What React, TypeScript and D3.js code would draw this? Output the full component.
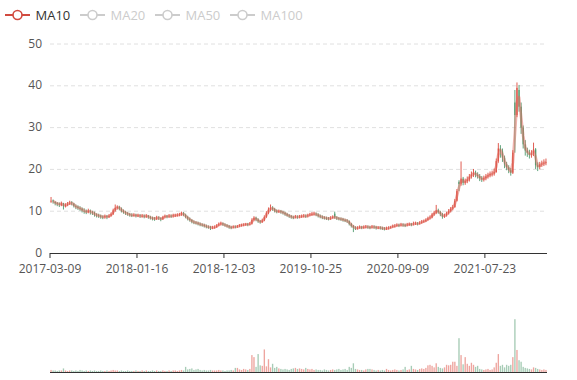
import React from 'react';
import * as d3 from 'd3';

const legendNames = ['MA10', 'MA20', 'MA50', 'MA100'];
const legendActive = [true, false, false, false];
const tickLabels = ['2017-03-09', '2018-01-16', '2018-12-03', '2019-10-25', '2020-09-09', '2021-07-23'];
const tickStep = 42;
const yTicks = [0, 10, 20, 30, 40, 50];

// [open, close, low, high]
const candles: number[][] = [
  [12.3,12.5,12.0,13.4],[12.6,12.3,11.8,12.8],[12.2,11.9,11.4,12.4],[11.9,11.8,11.2,12.2],[11.8,11.6,11.0,12.1],
  [11.5,11.9,11.2,12.3],[11.9,11.2,10.4,12.0],[11.2,11.5,10.9,11.9],[11.5,11.8,11.2,12.2],[11.8,12.0,11.5,12.5],
  [12.1,11.9,11.4,12.4],[11.8,11.3,10.9,12.0],[11.2,11.0,10.5,11.6],[11.1,10.8,10.3,11.4],[10.7,10.6,10.1,11.2],
  [10.6,10.2,9.7,10.9],[10.1,10.0,9.4,10.7],[10.0,9.8,9.3,10.4],[9.8,10.1,9.5,10.6],[10.1,9.8,9.2,10.4],
  [9.8,9.6,9.1,10.1],[9.6,9.2,8.7,9.9],[9.2,9.0,8.5,9.5],[9.0,8.9,8.4,9.4],[8.9,8.7,8.2,9.2],
  [8.7,8.6,8.1,9.0],[8.6,8.8,8.2,9.2],[8.8,8.6,8.1,9.1],[8.6,8.9,8.4,9.3],[8.9,9.3,8.7,9.7],
  [9.3,10.2,9.1,10.6],[10.2,10.8,9.9,11.6],[10.8,11.0,10.4,11.4],[11.0,10.6,10.2,11.3],[10.6,10.1,9.7,10.9],
  [10.1,9.8,9.4,10.4],[9.8,9.5,9.1,10.1],[9.5,9.3,8.9,9.8],[9.3,9.1,8.7,9.6],[9.1,9.0,8.6,9.5],
  [9.0,9.1,8.7,9.5],[9.1,8.9,8.5,9.4],[8.9,9.0,8.6,9.4],[9.0,8.8,8.4,9.3],[8.8,8.9,8.5,9.3],
  [8.9,8.7,8.3,9.2],[8.7,8.9,8.4,9.3],[8.9,8.6,8.2,9.1],[8.6,8.4,8.0,8.9],[8.4,8.3,7.8,8.7],
  [8.3,8.2,7.7,8.6],[8.2,8.5,7.9,8.9],[8.5,8.3,7.9,8.8],[8.3,8.1,7.6,8.5],[8.1,8.6,7.9,8.9],
  [8.6,8.8,8.3,9.2],[8.8,8.7,8.3,9.1],[8.7,8.9,8.4,9.3],[8.9,8.8,8.4,9.2],[8.8,9.0,8.5,9.4],
  [8.9,9.0,8.6,9.4],[9.0,9.1,8.7,9.5],[9.1,9.2,8.8,9.6],[9.2,9.5,8.9,9.9],[9.5,9.1,8.8,9.8],
  [9.1,8.6,8.3,9.4],[8.6,8.2,7.8,8.9],[8.2,7.9,7.5,8.5],[7.9,7.5,7.1,8.1],[7.5,7.3,6.9,7.8],
  [7.3,7.2,6.8,7.6],[7.2,7.0,6.6,7.5],[7.0,6.8,6.4,7.3],[6.8,6.7,6.3,7.1],[6.7,6.5,6.1,7.0],
  [6.5,6.3,5.9,6.8],[6.3,6.2,5.8,6.6],[6.2,6.0,5.5,6.5],[6.0,6.1,5.7,6.5],[6.1,6.2,5.8,6.6],
  [6.2,6.6,6.0,6.9],[6.6,6.9,6.4,7.3],[6.9,7.1,6.6,7.5],[7.1,6.8,6.5,7.3],[6.8,6.6,6.3,7.1],
  [6.6,6.4,6.1,6.9],[6.4,6.2,5.8,6.7],[6.2,6.1,5.7,6.5],[6.1,6.3,5.9,6.6],[6.3,6.2,5.9,6.6],
  [6.2,6.4,6.0,6.7],[6.4,6.6,6.2,6.9],[6.6,6.7,6.3,7.0],[6.7,6.8,6.4,7.1],[6.8,6.9,6.5,7.2],
  [6.9,6.8,6.4,7.2],[6.8,7.0,6.6,7.4],[7.0,7.9,6.8,8.3],[7.9,8.4,7.6,8.8],[8.4,8.0,7.6,8.7],
  [8.0,7.6,7.2,8.3],[7.6,7.4,7.0,7.9],[7.4,7.8,7.2,8.2],[7.8,8.6,7.6,9.0],[8.6,9.6,8.4,10.0],
  [9.6,10.4,9.3,10.9],[10.4,10.8,10.0,11.6],[10.8,10.5,10.1,11.2],[10.5,10.1,9.7,10.8],[10.1,9.9,9.5,10.4],
  [9.9,10.0,9.6,10.4],[10.0,9.8,9.4,10.3],[9.8,9.6,9.2,10.1],[9.6,9.3,8.9,9.9],[9.3,9.0,8.7,9.6],
  [9.0,8.8,8.4,9.3],[8.8,8.6,8.2,9.1],[8.6,8.5,8.1,8.9],[8.5,8.7,8.3,9.1],[8.7,8.6,8.2,9.0],
  [8.6,8.7,8.3,9.1],[8.7,8.8,8.4,9.2],[8.8,8.9,8.5,9.3],[8.9,8.8,8.4,9.2],[8.8,9.0,8.5,9.4],
  [9.0,9.2,8.8,9.6],[9.2,9.3,8.9,9.8],[9.3,9.4,9.0,9.9],[9.4,9.2,8.8,9.7],[9.2,8.9,8.5,9.5],
  [8.9,8.7,8.3,9.2],[8.7,8.5,8.1,9.0],[8.5,8.4,8.0,8.8],[8.4,8.3,7.9,8.7],[8.3,8.2,7.8,8.6],
  [8.2,8.4,7.9,8.8],[8.4,8.6,8.2,9.0],[9.4,8.5,8.2,9.9],[8.5,8.3,7.9,8.8],[8.3,8.2,7.8,8.6],
  [8.2,8.1,7.7,8.5],[8.1,7.9,7.5,8.4],[7.9,7.8,7.4,8.2],[7.8,7.6,7.2,8.1],[7.6,7.0,6.6,7.8],
  [7.0,6.5,6.1,7.2],[6.5,6.1,5.0,6.7],[6.1,5.9,5.5,6.4],[5.9,6.0,5.6,6.4],[6.0,6.2,5.8,6.6],
  [6.2,6.1,5.7,6.5],[6.1,6.2,5.8,6.6],[6.2,6.3,5.9,6.7],[6.3,6.2,5.8,6.6],[6.2,6.1,5.7,6.5],
  [6.1,6.3,5.9,6.7],[6.3,6.2,5.8,6.6],[6.2,6.0,5.6,6.5],[6.0,6.1,5.7,6.4],[6.1,6.0,5.6,6.4],
  [6.0,5.9,5.5,6.3],[5.9,5.8,5.4,6.2],[5.8,5.9,5.5,6.3],[5.9,6.0,5.6,6.4],[6.0,6.2,5.8,6.5],
  [6.2,6.4,6.0,6.8],[6.4,6.5,6.1,6.9],[6.5,6.7,6.3,7.1],[6.7,6.6,6.2,7.0],[6.6,6.8,6.4,7.2],
  [6.8,6.7,6.3,7.1],[6.7,6.6,6.2,7.0],[6.6,6.8,6.4,7.2],[6.8,6.9,6.5,7.3],[6.9,6.8,6.4,7.2],
  [6.8,7.0,6.6,7.5],[7.0,7.1,6.7,7.5],[7.1,7.0,6.6,7.4],[7.0,7.2,6.8,7.6],[7.2,7.5,7.0,7.9],
  [7.5,7.6,7.2,8.0],[7.6,7.9,7.4,8.3],[7.9,8.3,7.7,8.7],[8.3,8.5,8.0,9.0],[8.5,9.2,8.3,9.6],
  [9.2,9.6,8.9,10.1],[9.6,10.2,9.3,11.5],[10.2,9.8,9.4,10.6],[9.8,9.3,8.8,10.1],[9.3,8.7,8.2,9.6],
  [8.7,9.0,8.4,9.4],[9.0,9.5,8.7,9.9],[9.5,10.0,9.2,10.5],[10.0,10.6,9.7,11.0],[10.6,11.0,10.2,11.5],
  [11.0,12.5,10.8,12.9],[12.5,14.8,12.3,15.3],[17.0,16.5,14.8,17.4],[16.6,17.8,16.1,21.9],[17.8,16.8,16.2,18.2],
  [16.8,17.2,16.3,17.8],[17.2,17.6,16.7,18.3],[17.6,18.3,17.1,18.9],[18.3,18.8,17.8,19.5],[18.8,19.2,18.2,20.1],
  [19.2,18.7,18.1,19.7],[18.7,18.4,17.8,19.3],[18.4,17.9,17.2,18.9],[17.9,17.6,17.0,18.4],[17.6,17.9,17.1,18.5],
  [17.9,18.3,17.4,18.9],[18.3,18.6,17.8,19.2],[18.6,18.9,18.1,19.5],[18.9,19.0,18.3,19.7],[19.0,19.4,18.5,20.2],
  [19.4,22.0,19.2,22.6],[22.0,25.0,21.6,26.3],[25.0,24.3,22.8,25.8],[24.3,22.8,21.8,25.0],[22.8,21.2,20.3,23.3],
  [21.2,20.5,19.8,21.8],[20.5,19.8,19.1,21.0],[19.8,19.2,18.5,20.3],[19.2,24.0,18.9,24.6],[36.0,33.0,24.0,39.0],
  [33.0,39.5,32.5,40.8],[39.0,35.0,33.8,40.2],[35.0,30.0,28.5,36.0],[30.0,26.0,25.0,30.5],[26.0,24.5,23.3,27.0],
  [24.5,24.0,23.0,25.2],[24.0,23.5,22.6,24.7],[23.5,23.8,22.8,24.6],[23.8,24.8,23.2,26.4],[24.8,21.0,20.1,25.1],
  [21.0,20.6,19.6,21.7],[20.6,21.2,20.0,21.8],[21.2,21.4,20.6,22.1],[21.4,21.6,20.8,22.4],[21.6,21.8,21.0,22.6],
];

const volumes: number[] = [
  4,3,3,2,3,3,7,3,2,3, 3,2,3,2,4,3,2,3,2,3, 2,3,2,2,3,2,2,3,2,3, 4,3,3,2,3,2,2,3,2,2,
  2,3,2,2,3,2,3,2,2,3, 2,3,2,2,3,2,2,3,2,3, 3,2,3,4,3,10,5,6,7,4, 5,6,4,3,4,3,3,4,3,3,
  3,4,3,3,2,3,3,4,3,8, 8,5,4,6,5,4,6,33,29,10, 35,13,12,44,11,25,9,16,8,10, 7,6,5,6,5,4,6,7,8,6,
  7,6,5,8,6,5,6,4,5,4, 4,3,5,4,3,4,5,4,5,6, 4,5,6,4,10,8,17,6,5,4, 4,3,5,6,6,5,4,3,4,3,
  4,3,6,4,3,4,5,4,3,4, 5,10,4,5,12,6,5,4,6,7, 6,8,13,14,12,9,17,10,8,7, 9,14,13,14,20,20,12,66,33,15,
  29,16,12,18,14,10,12,6,5,4, 5,6,4,5,9,18,35,12,14,9, 14,12,14,29,103,43,23,20,10,8, 7,6,5,9,8,6,5,4,5,4,
];

const UP = '#dd4b3f';
const DOWN = '#4f9a6e';
const FONT = "'Open Sans', 'Noto Sans', sans-serif";

export default function App() {
  const W = 577, H = 380;
  const left = 50, right = 547, top = 44, bottom = 253;
  const vTop = 290, vBottom = 372;
  const n = candles.length;
  const pad = 0.35;
  const x = d3.scaleBand<number>().domain(d3.range(n)).range([left, right]).paddingInner(pad).paddingOuter(pad / 2);
  const step = x.step();
  const bw = x.bandwidth();
  const cx = (i: number) => (x(i) as number) + bw / 2;
  const tickX = (k: number) => (x(k) as number) - step * (pad / 2);
  const y = d3.scaleLinear().domain([0, 50]).range([bottom, top]);
  const yv = d3.scaleLinear().domain([0, 160]).range([vBottom, vTop]);

  const closes = candles.map(c => c[1]);
  const ma: (number | null)[] = closes.map((c, i) => (i < 1 ? null : (closes[i] + closes[i - 1]) / 2));
  const maLine = d3.line<number>()
    .defined((_, i) => ma[i] != null)
    .x((_, i) => cx(i))
    .y((_, i) => y(ma[i] as number))
    .curve(d3.curveLinear);

  const legendX = [5, 80, 155, 230];

  return (
    <svg width={W} height={H} style={{ position: 'fixed', left: 0, top: 0, background: '#fff' }} fontFamily={FONT}>
      {legendNames.map((name, i) => {
        const col = legendActive[i] ? '#d14a3f' : '#ccc';
        const lx = legendX[i];
        return (
          <g key={name}>
            <line x1={lx} x2={lx + 25} y1={15} y2={15} stroke={col} strokeWidth={2} />
            <circle cx={lx + 12.5} cy={15} r={4.5} fill="#fff" stroke={col} strokeWidth={1.6} />
            <text x={lx + 30.5} y={15} dominantBaseline="central" fontSize={13} fill={legendActive[i] ? '#333' : '#ccc'}>{name}</text>
          </g>
        );
      })}

      {yTicks.map(t => (
        <g key={t}>
          {t > 0 && (
            <line x1={left} x2={right} y1={y(t)} y2={y(t)} stroke="#e0e0e0" strokeDasharray="4,3" />
          )}
          <text x={42} y={y(t) - 1} textAnchor="end" dominantBaseline="central" fontSize={12} fill="#555">{t}</text>
        </g>
      ))}

      {candles.map((c, i) => {
        const [o, cl, lo, hi] = c;
        const col = cl >= o ? UP : DOWN;
        const yTop = y(Math.max(o, cl));
        const yBot = y(Math.min(o, cl));
        return (
          <g key={i}>
            <line x1={cx(i)} x2={cx(i)} y1={y(hi)} y2={y(lo)} stroke={col} strokeWidth={1} strokeOpacity={0.9} />
            <rect x={x(i)} y={yTop} width={bw} height={Math.max(0.8, yBot - yTop)} fill={col} fillOpacity={0.9} />
          </g>
        );
      })}

      <path d={maLine(closes) || ''} fill="none" stroke="#e0675c" strokeOpacity={0.5} strokeWidth={2.8} strokeLinejoin="round" />

      <line x1={left} x2={right} y1={bottom + 0.5} y2={bottom + 0.5} stroke="#333" />
      {tickLabels.map((lab, k) => {
        const tx = tickX(k * tickStep);
        return (
          <g key={lab}>
            <line x1={tx} x2={tx} y1={bottom} y2={bottom + 5} stroke="#333" />
            <text x={tx} y={bottom + 10} dominantBaseline="hanging" textAnchor="middle" fontSize={12} fill="#555">{lab}</text>
          </g>
        );
      })}

      {volumes.map((v, i) => {
        const c = candles[i];
        const col = c[1] >= c[0] ? UP : DOWN;
        return <rect key={i} x={x(i)} y={yv(v)} width={bw} height={vBottom - yv(v)} fill={col} opacity={0.5} />;
      })}
      <line x1={left} x2={right} y1={vBottom + 0.5} y2={vBottom + 0.5} stroke="#333" />
    </svg>
  );
}
